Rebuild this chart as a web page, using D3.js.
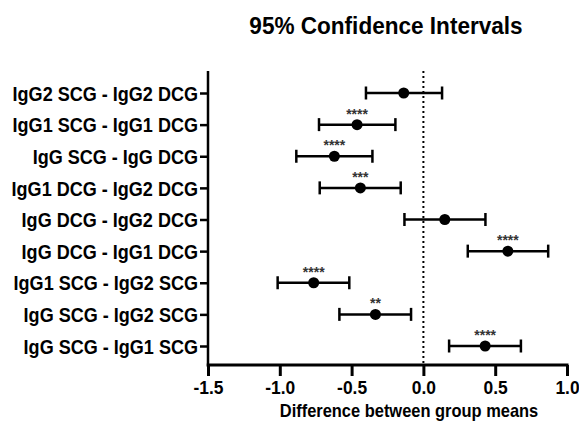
<!DOCTYPE html>
<html>
<head>
<meta charset="utf-8">
<script src="https://cdn.jsdelivr.net/npm/d3@7"></script>
<style>
  body { margin: 0; background: #fff; }
  text { font-family: "Liberation Sans", Arial, sans-serif; font-weight: bold; fill: #000; }
</style>
</head>
<body>
<div id="chart"></div>
<script>
const comparisons = [
    "IgG2 SCG - IgG2 DCG",
    "IgG1 SCG - IgG1 DCG",
    "IgG SCG - IgG DCG",
    "IgG1 DCG - IgG2 DCG",
    "IgG DCG - IgG2 DCG",
    "IgG DCG - IgG1 DCG",
    "IgG1 SCG - IgG2 SCG",
    "IgG SCG - IgG2 SCG",
    "IgG SCG - IgG1 SCG"
];
const meanDiff = [-0.137, -0.462, -0.62, -0.439, 0.149, 0.588, -0.764, -0.334, 0.43];
const lowerCI = [-0.40, -0.727, -0.885, -0.722, -0.132, 0.309, -1.015, -0.585, 0.179];
const upperCI = [0.13, -0.195, -0.355, -0.158, 0.432, 0.869, -0.516, -0.086, 0.679];
const stars = ["", "****", "****", "***", "", "****", "****", "**", "****"];
const xTicks = [-1.5, -1.0, -0.5, 0.0, 0.5, 1.0];

const width = 579, height = 438;
const svg = d3.select("#chart").append("svg")
    .attr("width", width)
    .attr("height", height);

const x = d3.scaleLinear().domain([-1.5, 1.0]).range([208, 567]);
const y = d3.scalePoint().domain(comparisons).range([93, 346]);
const yTop = 71, yBottom = 365;

// squeeze text a bit, the original font is narrower than Arial
function squeeze(sel, k) {
    sel.each(function() {
        const w = this.getComputedTextLength();
        d3.select(this).attr("textLength", w * k).attr("lengthAdjust", "spacingAndGlyphs");
    });
}

// title
svg.append("text")
    .attr("x", 386).attr("y", 34)
    .attr("text-anchor", "middle")
    .style("font-size", "24px")
    .text("95% Confidence Intervals")
    .call(squeeze, 0.94);

// zero reference line
svg.append("line")
    .attr("x1", x(0)).attr("x2", x(0))
    .attr("y1", yTop).attr("y2", yBottom)
    .attr("stroke", "#000")
    .attr("stroke-width", 2)
    .attr("stroke-dasharray", "2,3");

// y axis
const yAxis = d3.axisLeft(y).tickSize(8).tickPadding(2);
const gy = svg.append("g")
    .attr("transform", `translate(${x(-1.5)},0)`)
    .call(yAxis);
gy.select(".domain").remove();
gy.selectAll(".tick line").attr("stroke", "#000").attr("stroke-width", 2.5);
gy.selectAll(".tick text")
    .style("font-size", "20.5px")
    .attr("dy", "0.35em")
    .call(squeeze, 0.88);
svg.append("line")
    .attr("x1", x(-1.5)).attr("x2", x(-1.5))
    .attr("y1", yTop).attr("y2", yBottom + 1.5)
    .attr("stroke", "#000").attr("stroke-width", 2.5);

// x axis
const xAxis = d3.axisBottom(x)
    .tickValues(xTicks)
    .tickFormat(d => d3.format(".1f")(d).replace("\u2212", "-"))
    .tickSize(11).tickPadding(5);
const gx = svg.append("g")
    .attr("transform", `translate(0,${yBottom})`)
    .call(xAxis);
gx.select(".domain").remove();
gx.selectAll(".tick line").attr("stroke", "#000").attr("stroke-width", 3);
gx.selectAll(".tick text").style("font-size", "18.5px").call(squeeze, 0.94);
svg.append("line")
    .attr("x1", x(-1.5) - 1.25).attr("x2", x(1.0) + 1.5)
    .attr("y1", yBottom).attr("y2", yBottom)
    .attr("stroke", "#000").attr("stroke-width", 3);

svg.append("text")
    .attr("x", 409).attr("y", 417)
    .attr("text-anchor", "middle")
    .style("font-size", "19px")
    .text("Difference between group means")
    .call(squeeze, 0.865);

// error bars
const rows = comparisons.map((c, i) => ({ c, m: meanDiff[i], lo: lowerCI[i], hi: upperCI[i], s: stars[i] }));
const capH = 13;
const g = svg.append("g");
g.selectAll(".bar").data(rows).enter().append("line")
    .attr("x1", d => x(d.lo)).attr("x2", d => x(d.hi))
    .attr("y1", d => y(d.c)).attr("y2", d => y(d.c))
    .attr("stroke", "#000").attr("stroke-width", 2.5);
g.selectAll(".capl").data(rows).enter().append("line")
    .attr("x1", d => x(d.lo)).attr("x2", d => x(d.lo))
    .attr("y1", d => y(d.c) - capH / 2).attr("y2", d => y(d.c) + capH / 2)
    .attr("stroke", "#000").attr("stroke-width", 2.5);
g.selectAll(".capr").data(rows).enter().append("line")
    .attr("x1", d => x(d.hi)).attr("x2", d => x(d.hi))
    .attr("y1", d => y(d.c) - capH / 2).attr("y2", d => y(d.c) + capH / 2)
    .attr("stroke", "#000").attr("stroke-width", 2.5);
g.selectAll("circle").data(rows).enter().append("circle")
    .attr("cx", d => x(d.m)).attr("cy", d => y(d.c))
    .attr("r", 5.5).attr("fill", "#000");
g.selectAll(".star").data(rows).enter().append("text")
    .attr("x", d => x(d.m)).attr("y", d => y(d.c) - 6)
    .attr("text-anchor", "middle")
    .style("font-size", "14px")
    .style("fill", "#333")
    .text(d => d.s);
</script>
</body>
</html>
